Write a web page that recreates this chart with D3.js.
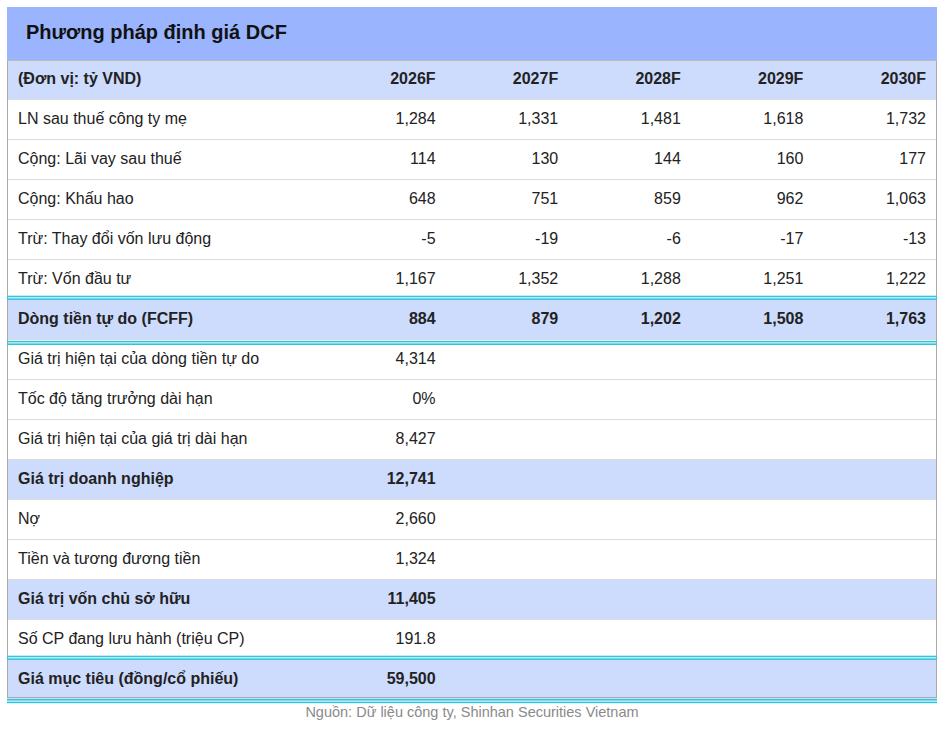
<!DOCTYPE html>
<html>
<head>
<meta charset="utf-8">
<script src="https://cdn.jsdelivr.net/npm/d3@7"></script>
<style>
  body { margin: 0; background: #fff; }
  text { font-family: "Liberation Sans", Arial, sans-serif; }
</style>
</head>
<body>
<div id="holder"></div>
<script>
// data
const title = "Phương pháp định giá DCF";
const unitLabel = "(Đơn vị: tỷ VND)";
const years = ["2026F", "2027F", "2028F", "2029F", "2030F"];

const forecastLabels = [
  "LN sau thuế công ty mẹ",
  "Cộng: Lãi vay sau thuế",
  "Cộng: Khấu hao",
  "Trừ: Thay đổi vốn lưu động",
  "Trừ: Vốn đầu tư",
  "Dòng tiền tự do (FCFF)"
];
const forecastValues = [
  [1284, 1331, 1481, 1618, 1732],
  [114, 130, 144, 160, 177],
  [648, 751, 859, 962, 1063],
  [-5, -19, -6, -17, -13],
  [1167, 1352, 1288, 1251, 1222],
  [884, 879, 1202, 1508, 1763]
];

const valuationLabels = [
  "Giá trị hiện tại của dòng tiền tự do",
  "Tốc độ tăng trưởng dài hạn",
  "Giá trị hiện tại của giá trị dài hạn",
  "Giá trị doanh nghiệp",
  "Nợ",
  "Tiền và tương đương tiền",
  "Giá trị vốn chủ sở hữu",
  "Số CP đang lưu hành (triệu CP)",
  "Giá mục tiêu (đồng/cổ phiếu)"
];
const valuationValues = ["4,314", "0%", "8,427", "12,741", "2,660", "1,324", "11,405", "191.8", "59,500"];

const highlightRows = ["Dòng tiền tự do (FCFF)", "Giá trị doanh nghiệp", "Giá trị vốn chủ sở hữu", "Giá mục tiêu (đồng/cổ phiếu)"];
const doubleLineAround = ["Dòng tiền tự do (FCFF)", "Giá mục tiêu (đồng/cổ phiếu)"];
const source = "Nguồn: Dữ liệu công ty, Shinhan Securities Vietnam";

// layout
const W = 946, H = 729;
const left = 7, right = 937;
const fmt = d3.formatLocale({ decimal: ".", thousands: ",", grouping: [3], currency: ["", ""], minus: "-" }).format(",");
const cyan = "#2ec4dc";

const rows = [{ label: unitLabel, values: years, header: true }]
  .concat(forecastLabels.map((l, i) => ({ label: l, values: forecastValues[i].map(fmt) })))
  .concat(valuationLabels.map((l, i) => ({ label: l, values: [valuationValues[i]] })));

const y = d3.scaleBand().domain(d3.range(rows.length)).range([60, 700]);
const x = d3.scaleBand().domain(years).range([313, 926]);

const svg = d3.select("#holder").append("svg").attr("width", W).attr("height", H);

// title band
svg.append("rect").attr("x", left).attr("y", 7).attr("width", right - left).attr("height", 53).attr("fill", "#9ab4fd");
svg.append("text").attr("x", 26).attr("y", 39).attr("font-size", 20).attr("font-weight", "bold")
  .attr("fill", "#111").text(title);

const isBold = d => d.header || highlightRows.includes(d.label);

const g = svg.selectAll("g.row").data(rows).join("g").attr("class", "row")
  .attr("transform", (d, i) => `translate(0,${y(i)})`);

g.append("rect")
  .attr("x", left).attr("width", right - left).attr("height", y.bandwidth())
  .attr("fill", d => isBold(d) ? "#cddbfd" : "#fff");

g.append("line")
  .attr("x1", left).attr("x2", right).attr("y1", y.bandwidth() - 0.5).attr("y2", y.bandwidth() - 0.5)
  .attr("stroke", "#dcdcdc");

g.append("text")
  .attr("x", 18).attr("y", 24).attr("font-size", 16)
  .attr("font-weight", d => isBold(d) ? "bold" : "normal")
  .attr("fill", "#222").text(d => d.label);

g.each(function (d) {
  d3.select(this).selectAll("text.val").data(d.values).join("text").attr("class", "val")
    .attr("x", (v, j) => x(years[j]) + x.bandwidth())
    .attr("y", 24).attr("font-size", 16).attr("text-anchor", "end")
    .attr("font-weight", isBold(d) ? "bold" : "normal")
    .attr("fill", "#222").text(v => v);
});

// outer frame
svg.append("line").attr("x1", left + 0.5).attr("x2", left + 0.5).attr("y1", 60).attr("y2", 698).attr("stroke", "#aaa");
svg.append("line").attr("x1", right - 0.5).attr("x2", right - 0.5).attr("y1", 60).attr("y2", 698).attr("stroke", "#aaa");
svg.append("line").attr("x1", left).attr("x2", right).attr("y1", 60.5).attr("y2", 60.5).attr("stroke", "#bbb");
svg.append("line").attr("x1", left).attr("x2", right).attr("y1", 697.5).attr("y2", 697.5).attr("stroke", "#aaa");

// double cyan lines
function doubleLine(yy) {
  svg.append("rect").attr("x", left).attr("y", yy).attr("width", right - left).attr("height", 1.6).attr("fill", cyan);
  svg.append("rect").attr("x", left).attr("y", yy + 2.6).attr("width", right - left).attr("height", 1.6).attr("fill", cyan);
}
rows.forEach((d, i) => {
  if (doubleLineAround.includes(d.label)) {
    doubleLine(y(i) - 4.3);
    doubleLine(y(i) + y.bandwidth() + (i === rows.length - 1 ? -1 : 0.8));
  }
});

svg.append("text").attr("x", 472).attr("y", 717).attr("font-size", 14.5).attr("text-anchor", "middle")
  .attr("fill", "#8a8a8a").text(source);
</script>
</body>
</html>
